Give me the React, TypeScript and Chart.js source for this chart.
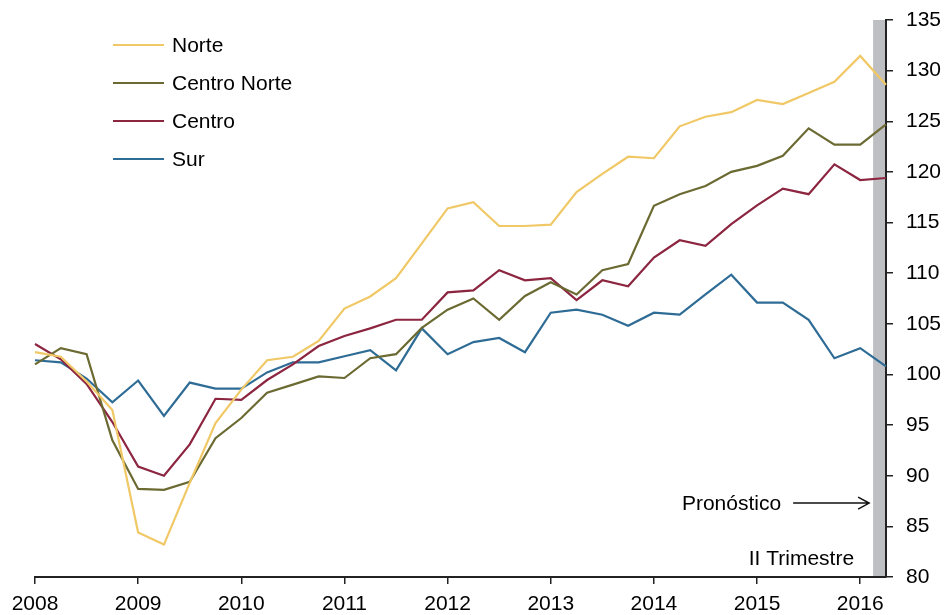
import React, { useEffect, useRef } from "react";
import { Chart, registerables } from "chart.js";

Chart.register(...registerables);

// ---- data ----
const years = ["2008", "2009", "2010", "2011", "2012", "2013", "2014", "2015", "2016"];
const quarterNames = ["I", "II", "III", "IV"];
const quarterCount = 34; // 2008 I .. 2016 II

const norte = [102.2, 101.75, 99.3, 96.5, 84.4, 83.2, 89.3, 95.2, 98.5, 101.4, 101.75, 103.3, 106.5, 107.7, 109.5, 112.95, 116.4, 117.0, 114.66, 114.66, 114.8, 118.0, 119.8, 121.5, 121.35, 124.5, 125.45, 125.9, 127.1, 126.7, 127.8, 128.9, 131.45, 128.6];
const centroNorte = [101.0, 102.6, 102.0, 93.5, 88.7, 88.6, 89.4, 93.7, 95.7, 98.2, 99.0, 99.8, 99.65, 101.6, 102.0, 104.6, 106.4, 107.5, 105.4, 107.75, 109.1, 107.9, 110.3, 110.9, 116.65, 117.8, 118.6, 120.0, 120.6, 121.6, 124.3, 122.7, 122.7, 124.7];
const centro = [103.0, 101.5, 99.06, 95.3, 90.9, 90.0, 93.1, 97.6, 97.5, 99.45, 101.0, 102.8, 103.8, 104.55, 105.4, 105.4, 108.1, 108.3, 110.3, 109.3, 109.5, 107.35, 109.3, 108.7, 111.55, 113.25, 112.7, 114.85, 116.7, 118.35, 117.8, 120.75, 119.2, 119.4];
const sur = [101.4, 101.2, 99.6, 97.25, 99.4, 95.9, 99.2, 98.6, 98.6, 100.2, 101.2, 101.2, 101.8, 102.4, 100.4, 104.55, 102.0, 103.2, 103.6, 102.2, 106.1, 106.4, 105.9, 104.8, 106.1, 105.9, 107.9, 109.85, 107.1, 107.1, 105.4, 101.6, 102.6, 100.8];

const seriesNames = ["Norte", "Centro Norte", "Centro", "Sur"];
const seriesColors = ["#F0C866", "#6B6A32", "#8C2540", "#2E6C96"];

const forecastStart = 32.5; // half a quarter before 2016 II
const forecastLabel = "Pronóstico";
const forecastNote = "II Trimestre";

const yMin = 80;
const yMax = 135;
const yStep = 5;

const labels = years
  .flatMap((y) => quarterNames.map((q) => `${y} ${q}`))
  .slice(0, quarterCount);

const FONT = "'Liberation Sans', Arial, Helvetica, sans-serif";

const overlayPlugin = {
  id: "overlay",
  beforeDraw(chart: any) {
    const { ctx, chartArea, scales } = chart;
    const x0 = scales.x.getPixelForValue(forecastStart);
    ctx.save();
    ctx.fillStyle = "#BEBFC3";
    ctx.fillRect(x0, chartArea.top, chartArea.right - x0, chartArea.bottom - chartArea.top);
    ctx.restore();
  },
  afterDraw(chart: any) {
    const { ctx, scales } = chart;
    const x0 = scales.x.getPixelForValue(forecastStart);
    ctx.save();
    // legend
    ctx.font = `21px ${FONT}`;
    ctx.textBaseline = "middle";
    ctx.textAlign = "left";
    chart.data.datasets.forEach((ds: any, i: number) => {
      const y = 45 + i * 38;
      ctx.strokeStyle = ds.borderColor;
      ctx.lineWidth = 2;
      ctx.beginPath();
      ctx.moveTo(113, y);
      ctx.lineTo(164, y);
      ctx.stroke();
      ctx.fillStyle = "#000";
      ctx.fillText(ds.label, 172, y + 1);
    });
    // forecast annotation
    const arrowY = scales.y.getPixelForValue(87.3);
    const arrowEnd = x0 - 4;
    const arrowStart = arrowEnd - 76;
    ctx.strokeStyle = "#111";
    ctx.lineWidth = 1.5;
    ctx.beginPath();
    ctx.moveTo(arrowStart, arrowY);
    ctx.lineTo(arrowEnd, arrowY);
    ctx.moveTo(arrowEnd - 11, arrowY - 6);
    ctx.lineTo(arrowEnd, arrowY);
    ctx.lineTo(arrowEnd - 11, arrowY + 6);
    ctx.stroke();
    ctx.fillStyle = "#000";
    ctx.textAlign = "right";
    ctx.fillText(forecastLabel, arrowStart - 12, arrowY + 1);
    const noteY = scales.y.getPixelForValue(81.9);
    ctx.fillText(forecastNote, x0 - 19, noteY + 1);
    ctx.restore();
  },
};

export default function App() {
  const canvasRef = useRef<HTMLCanvasElement | null>(null);

  useEffect(() => {
    const canvas = canvasRef.current;
    if (!canvas) return;
    const seriesData = [norte, centroNorte, centro, sur];
    const chart = new Chart(canvas, {
      type: "line",
      data: {
        labels,
        datasets: seriesNames.map((name, i) => ({
          label: name,
          data: seriesData[i],
          borderColor: seriesColors[i],
          backgroundColor: seriesColors[i],
          borderWidth: 2.2,
          pointRadius: 0,
          tension: 0,
          fill: false,
        })),
      },
      options: {
        responsive: false,
        animation: false,
        devicePixelRatio: 1,
        layout: { padding: { left: 35, top: 20, right: 0, bottom: 0 } },
        plugins: {
          legend: { display: false },
          tooltip: { enabled: false },
          title: { display: false },
        },
        scales: {
          x: {
            type: "category",
            offset: false,
            afterBuildTicks: (scale: any) => {
              scale.ticks = scale.ticks.filter((t: any) => t.value % 4 === 0);
            },
            afterFit: (scale: any) => {
              scale.height = 38;
            },
            grid: {
              drawOnChartArea: false,
              drawTicks: true,
              tickLength: 7,
              color: "#222",
              lineWidth: 1.5,
            },
            border: { display: true, color: "#222", width: 2 },
            ticks: {
              autoSkip: false,
              maxRotation: 0,
              padding: 8,
              color: "#000",
              font: { size: 21, family: FONT },
              callback: function (this: any, value: any) {
                return String(this.getLabelForValue(value)).split(" ")[0];
              },
            },
          },
          y: {
            position: "right",
            min: yMin,
            max: yMax,
            afterFit: (scale: any) => {
              scale.width = 59;
              scale.paddingTop = 0;
              scale.paddingBottom = 0;
            },
            grid: {
              drawOnChartArea: false,
              drawTicks: true,
              tickLength: 7,
              color: "#222",
              lineWidth: 1.5,
            },
            border: { display: true, color: "#222", width: 2 },
            ticks: {
              stepSize: yStep,
              padding: 13,
              color: "#000",
              font: { size: 21, family: FONT },
            },
          },
        },
      },
      plugins: [overlayPlugin],
    });
    return () => chart.destroy();
  }, []);

  return (
    <div style={{ position: "fixed", left: 0, top: 0, width: 945, height: 615, background: "#fff" }}>
      <canvas ref={canvasRef} width={945} height={615} style={{ display: "block" }} />
    </div>
  );
}
